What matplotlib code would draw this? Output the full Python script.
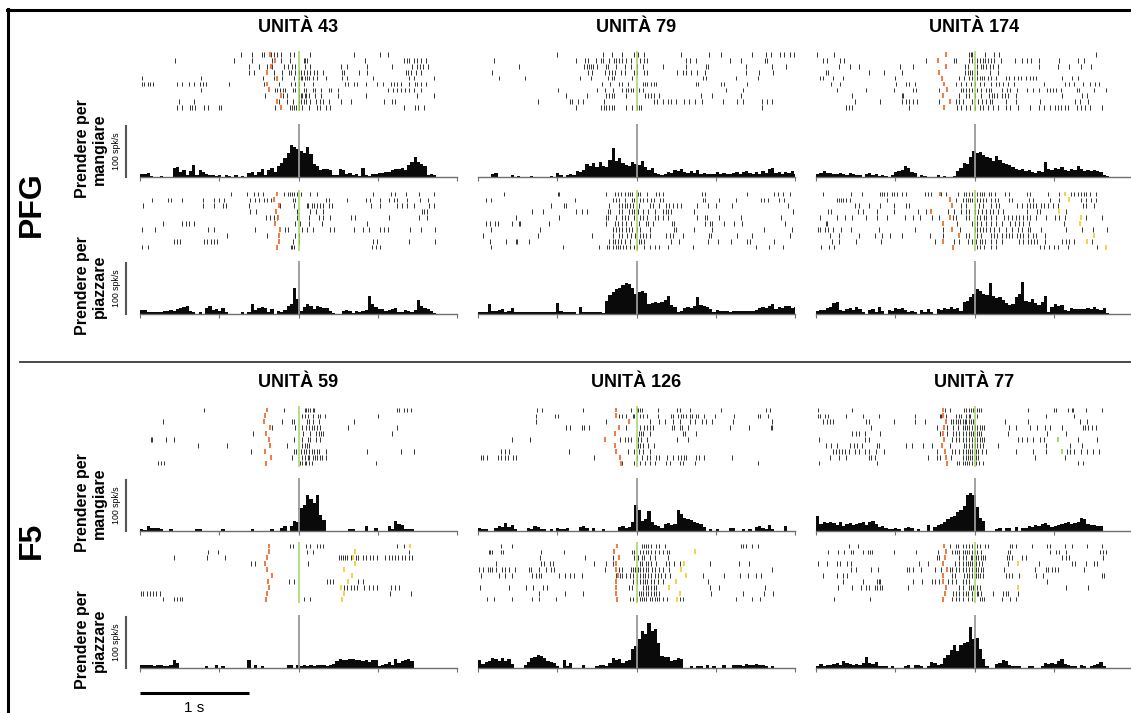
import matplotlib
matplotlib.use("Agg")
import matplotlib.pyplot as plt
import numpy as np
from matplotlib.lines import Line2D

plt.rcParams["font.family"] = ["Liberation Sans", "DejaVu Sans"]

NA = np.nan
T0, T1 = -1.46, 1.46          # analysis window (s), aligned on contact
BIN = 0.03                    # PSTH bin width (s)
TICKS = [-1.46, -0.73, 0.0, 0.73, 1.46]

# ---------------- PFG, unit 43 ----------------
u43_eat_trials = [
    [-0.53, -0.43, -0.34, -0.32, -0.25, -0.23, -0.20, -0.16, -0.08, -0.04, 0.11, 0.51, 0.75, 0.82],
    [-1.14, -0.59, -0.43, -0.24, -0.16, -0.08, 0.05, 0.06, 0.08, 0.61, 0.97, 1.00, 1.02, 1.06, 1.09, 1.13, 1.17],
    [-0.46, -0.36, -0.29, -0.24, -0.13, -0.10, -0.06, -0.03, 0.06, 0.11, 0.39, 0.45, 0.63, 0.86, 1.05, 1.09, 1.12, 1.15, 1.19],
    [-0.46, -0.41, -0.23, -0.15, -0.09, -0.07, -0.03, 0.0, 0.02, 0.05, 0.08, 0.11, 0.14, 0.17, 0.23, 0.40, 0.42, 0.56, 0.63, 0.99, 1.01, 1.04, 1.08, 1.13],
    [-1.44, -0.90, -0.33, -0.23, -0.15, -0.04, 0.00, 0.02, 0.03, 0.06, 0.08, 0.10, 0.13, 0.17, 0.25, 0.40, 0.45, 0.69, 1.02, 1.06, 1.25],
    [-1.44, -1.42, -1.39, -1.37, -1.34, -1.12, -1.07, -1.01, -0.96, -0.91, -0.88, -0.85, -0.64, -0.32, -0.18, -0.07, -0.03, 0.00, 0.05, 0.13, 0.43, 0.46, 0.51, 0.54, 0.62, 0.72, 0.78, 0.85, 0.88, 0.91, 0.94, 1.02, 1.07, 1.09, 1.13, 1.17],
    [-0.90, -0.22, -0.20, -0.17, -0.14, -0.12, -0.05, -0.03, 0.00, 0.05, 0.07, 0.13, 0.15, 0.21, 0.28, 0.30, 0.36, 0.82, 0.87, 0.91, 0.94, 0.98, 1.02, 1.06, 1.13],
    [-0.31, -0.14, -0.11, 0.00, 0.02, 0.03, 0.06, 0.07, 0.10, 0.15, 0.21, 0.36, 0.62, 1.09, 1.25],
    [-1.10, -0.96, -0.18, -0.11, -0.05, 0.00, 0.02, 0.05, 0.07, 0.11, 0.16, 0.20, 0.23, 0.28, 0.39, 0.48, 0.79, 0.86, 0.89],
    [-1.12, -1.07, -1.00, -0.98, -0.95, -0.87, -0.83, -0.73, -0.71, -0.22, -0.08, -0.06, -0.04, -0.02, 0.00, 0.03, 0.10, 0.17, 0.20, 0.25, 0.29, 0.97, 1.07, 1.10, 1.16],
]
u43_eat_go = [-0.26, -0.22, -0.25, -0.29, -0.20, -0.29, -0.27, -0.16, -0.20, -0.16]
u43_eat_psth = [6, 5, 7, 2, 0, 0, 1, 0, 0, 0, 18, 20, 10, 14, 4, 12, 24, 3, 14, 10, 6, 4, 3,
                2, 3, 0, 3, 2, 0, 3, 0, 2, 0, 8, 9, 4, 10, 16, 3, 14, 18, 10, 22, 28,
                38, 48, 62, 58, 55, 52, 48, 58, 45, 25, 22, 14, 16, 16, 14, 3, 4, 16, 14, 6, 8,
                4, 6, 2, 18, 3, 1, 5, 6, 8, 7, 9, 10, 14, 16, 16, 18, 14, 24, 30, 40, 30, 26,
                22, 4, 6, 3]

u43_place_trials = [
    [-0.62, -0.47, -0.41, -0.37, -0.33, -0.13, -0.10, -0.08, -0.06, -0.04, -0.01, 0.02, 0.11, 0.17, 0.69, 0.85, 0.89, 0.99, 1.11, 1.25],
    [-1.35, -1.20, -1.17, -1.07, -0.88, -0.78, -0.73, -0.69, -0.45, -0.40, -0.36, -0.32, -0.29, -0.25, -0.05, -0.03, 0.25, 0.28, 0.45, 0.62, 0.66, 0.75, 0.83, 0.88, 0.91, 1.00, 1.12, 1.19],
    [-1.43, -0.88, -0.78, -0.70, -0.67, -0.46, -0.17, -0.04, 0.08, 0.09, 0.12, 0.14, 0.17, 0.20, 0.23, 0.28, 0.31, 0.67, 0.75, 0.91, 0.95, 1.00, 1.06, 1.20, 1.25],
    [-0.45, -0.39, -0.01, 0.11, 0.16, 0.23, 1.14, 1.16, 1.18],
    [-0.30, -0.26, -0.23, -0.20, -0.01, 0.10, 0.19, 0.23, 0.29, 0.48, 0.52, 0.83, 1.11, 1.18],
    [-1.25, -1.07, -1.04, -1.01, -0.96, -0.03, 0.01, 0.10, 0.22, 0.63],
    [-1.44, -1.32, -0.83, -0.78, -0.40, -0.12, -0.10, 0.03, 0.08, 0.13, 0.29, 0.33, 0.51, 0.59, 0.65, 0.75, 0.79, 0.82, 1.03, 1.13, 1.26],
    [-0.66, -0.29, -0.03, 0.00],
    [-1.15, -1.12, -1.09, -0.87, -0.84, -0.81, -0.78, -0.75, -0.05, 0.00, 0.69, 0.72, 1.02, 1.26],
    [-1.44, -1.39, -0.07, -0.06, -0.04, 0.68, 0.71, 0.75],
]
u43_place_go = [-0.20, -0.23, -0.18, -0.21, -0.19, -0.22, -0.17, -0.18, -0.18, -0.20]
u43_place_psth = [8, 8, 4, 4, 3, 4, 3, 6, 5, 8, 6, 10, 12, 14, 16, 5, 3, 0, 4, 0, 12, 15, 8,
                  10, 6, 12, 4, 0, 0, 0, 0, 4, 0, 4, 20, 8, 12, 14, 12, 4, 10, 0, 6, 4,
                  8, 16, 20, 52, 30, 6, 14, 20, 16, 10, 16, 14, 12, 12, 6, 2, 0, 0, 6, 8, 6,
                  2, 6, 4, 6, 8, 36, 20, 14, 10, 10, 6, 8, 10, 12, 4, 4, 8, 6, 4, 8, 28, 16,
                  12, 10, 6, 2]

# ---------------- PFG, unit 79 ----------------
u79_eat_trials = [
    [-0.73, -0.31, -0.23, -0.13, -0.02, 0.01, 0.07, 0.41, 0.67, 0.78, 1.06, 1.19, 1.24, 1.32, 1.36, 1.41, 1.45],
    [-1.31, -0.56, -0.47, -0.45, -0.37, -0.33, -0.31, -0.25, -0.21, -0.19, -0.16, -0.13, -0.10, -0.05, 0.03, 0.07, 0.10, 0.46, 0.49, 0.55, 0.86, 0.96, 1.18, 1.20],
    [-1.08, -0.48, -0.46, -0.44, -0.42, -0.40, -0.36, -0.28, -0.26, -0.19, -0.11, -0.05, 0.0, 0.06, 0.24, 0.46, 0.64, 0.66, 1.01, 1.25, 1.38],
    [-1.33, -0.45, -0.41, -0.29, -0.25, -0.23, -0.20, -0.14, -0.11, -0.02, 0.0, 0.07, 0.10, 0.37, 0.43, 0.46, 0.50, 0.56, 0.63, 1.01, 1.13, 1.26],
    [-1.27, -1.03, -0.52, -0.42, -0.26, -0.23, -0.21, -0.04, 0.61, 0.64, 0.92, 1.12],
    [-0.32, -0.24, -0.16, -0.13, -0.08, 0.06, 0.08, 0.10, 0.13, 0.16, 0.18, 0.55, 0.57, 0.78, 0.81, 1.02],
    [-0.72, -0.36, -0.29, -0.22, -0.13, -0.10, -0.08, -0.05, -0.03, 0.02, 0.06, 0.82, 0.98],
    [-0.65, -0.46, -0.28, -0.25, -0.23, -0.21, -0.10, 0.08, 0.11, 0.13, 0.16, 0.21, 0.59, 0.70, 0.96],
    [-0.91, -0.61, -0.59, -0.54, -0.49, -0.30, 0.16, 0.19, 0.24, 0.29, 0.32, 0.36, 0.44, 0.48, 0.54, 0.60, 0.80, 0.93, 0.98, 1.16, 1.20, 1.25],
    [-0.56, -0.33, -0.30, -0.28, -0.25, -0.23, -0.21, -0.10, -0.04, 0.00, 0.02, 0.04, 1.16],
]
u79_eat_psth = [0, 0, 0, 0, 6, 8, 0, 0, 0, 0, 3, 0, 2, 0, 0, 0, 2, 0, 0, 0, 0, 0, 2, 0, 8,
                3, 0, 4, 6, 4, 12, 10, 14, 26, 22, 28, 20, 30, 22, 20, 34, 56, 32, 38, 28,
                24, 22, 30, 26, 24, 32, 20, 14, 18, 8, 6, 4, 6, 10, 8, 14, 12, 16, 10, 8,
                12, 8, 13, 6, 8, 5, 6, 5, 10, 6, 8, 5, 6, 8, 10, 6, 10, 12, 8, 6,
                10, 6, 12, 8, 15, 18, 8, 10, 6, 10, 8, 12, 6]

u79_place_trials = [
    [-1.22, -0.72, -0.71, -0.28, -0.20, -0.17, -0.14, -0.11, -0.08, -0.06, -0.04, 0.01, 0.03, 0.10, 0.18, 0.21, 0.24, 0.60, 0.63, 1.02, 1.27, 1.30, 1.35, 1.41],
    [-1.39, -1.34, -0.57, -0.22, -0.19, -0.16, -0.11, -0.04, -0.02, 0.03, 0.06, 0.10, 0.13, 0.16, 0.22, 0.24, 0.61, 0.63, 0.76, 0.92, 1.15, 1.17, 1.21, 1.31, 1.36],
    [-0.79, -0.67, -0.65, -0.25, -0.16, -0.13, -0.11, -0.09, -0.06, -0.03, 0.02, 0.12, 0.15, 0.21, 0.27, 0.30, 0.34, 0.37, 0.41, 0.56, 0.66, 0.73, 0.88, 1.40],
    [-0.96, -0.86, -0.56, -0.50, -0.46, -0.26, -0.24, -0.16, -0.13, -0.07, -0.04, -0.02, 0.01, 0.06, 0.11, 0.17, 0.24, 0.27, 0.29, 0.32, 0.53, 1.44],
    [-1.11, -0.71, -0.28, -0.26, -0.19, -0.13, -0.11, -0.08, -0.02, 0.03, 0.06, 0.10, 0.17, 0.20, 0.24, 0.29, 0.56, 0.63, 0.65, 0.76, 0.96, 1.33],
    [-1.39, -1.35, -1.30, -1.28, -1.15, -1.08, -1.07, -0.81, -0.28, -0.20, -0.17, -0.13, -0.10, -0.05, 0.02, 0.09, 0.11, 0.15, 0.33, 0.35, 0.63, 0.68, 0.70, 0.81, 0.90, 0.97, 1.37],
    [-1.34, -0.89, -0.22, -0.19, -0.16, -0.13, -0.10, -0.07, -0.04, 0.0, 0.03, 0.12, 0.35, 0.36, 0.53, 0.70, 1.17, 1.43],
    [-1.41, -0.91, -0.41, -0.22, -0.16, -0.13, -0.09, -0.05, -0.01, 0.03, 0.06, 0.09, 0.12, 0.27, 0.31, 0.34, 0.43, 0.67, 0.69, 0.93, 1.06, 1.41],
    [-1.35, -1.20, -1.11, -1.10, -0.99, -0.25, -0.22, -0.20, -0.17, -0.14, -0.11, -0.06, 0.02, 0.04, 0.07, 0.32, 0.39, 0.66, 0.75, 0.87, 1.02, 1.05, 1.27],
    [-1.34, -0.68, -0.35, -0.27, -0.25, -0.22, -0.19, -0.17, -0.15, -0.12, -0.10, -0.06, -0.02, 0.0, 0.07, 0.12, 0.17, 0.21, 0.29, 0.52, 1.10, 1.22, 1.35],
]
u79_place_psth = [3, 4, 3, 20, 6, 5, 8, 10, 4, 6, 12, 4, 3, 3, 4, 3, 4, 3, 4, 3, 4, 3, 4, 3, 22,
                  6, 4, 3, 3, 4, 0, 14, 4, 3, 4, 3, 3, 4, 2, 26, 38, 44, 50, 52, 56,
                  60, 58, 52, 40, 44, 46, 42, 20, 22, 24, 22, 24, 28, 36, 18, 14, 4, 6, 12, 14,
                  12, 16, 34, 18, 16, 14, 10, 4, 8, 6, 6, 6, 4, 6, 6, 6, 5, 6, 6, 6,
                  8, 12, 14, 12, 16, 20, 10, 14, 12, 16, 16, 12, 14]

# ---------------- PFG, unit 174 ----------------
u174_eat_trials = [
    [-1.45, -1.29, -0.05, -0.03, -0.02, 0.10, 0.18, 0.23, 1.12],
    [-1.40, -1.36, -1.24, -1.20, -0.45, -0.19, -0.17, -0.05, -0.02, 0.02, 0.05, 0.08, 0.10, 0.12, 0.15, 0.18, 0.24, 0.37, 0.44, 0.48, 0.52, 0.59, 0.78, 0.95, 1.01],
    [-1.25, -1.15, -1.06, -0.69, -0.57, -0.09, -0.06, 0.02, 0.06, 0.08, 0.11, 0.14, 0.17, 0.22, 0.59, 0.77, 0.87, 0.98, 1.07],
    [-1.37, -1.35, -0.97, -0.83, -0.67, -0.09, -0.06, -0.04, -0.02, 0.02, 0.14, 0.22],
    [-1.42, -1.40, -1.30, -1.21, -0.73, -0.14, -0.10, -0.05, -0.02, 0.02, 0.05, 0.07, 0.09, 0.12, 0.15, 0.20, 0.29, 0.32, 0.36, 0.40, 0.43, 0.47, 0.51, 0.54, 0.57, 0.81, 0.90, 0.95],
    [-1.32, -1.24, -0.72, -0.63, -0.60, -0.55, -0.17, -0.12, -0.08, -0.03, 0.0, 0.05, 0.09, 0.15, 0.20, 0.23, 0.26, 0.31, 0.36, 0.64, 0.83, 0.87, 0.92, 1.00, 1.06, 1.11, 1.15],
    [-1.27, -1.00, -0.74, -0.57, -0.54, -0.33, -0.12, -0.11, -0.08, -0.05, -0.02, 0.02, 0.06, 0.11, 0.13, 0.15, 0.25, 0.30, 0.33, 0.39, 0.48, 0.54, 0.59, 0.67, 0.70, 0.72, 0.75, 0.80, 0.94, 0.96, 1.10, 1.21],
    [-1.13, -0.67, -0.66, -0.14, -0.08, -0.05, 0.0, 0.06, 0.13, 0.16, 0.18, 0.21, 0.25, 0.28, 0.31, 0.38, 0.81, 0.99, 1.04],
    [-1.10, -0.87, -0.67, -0.63, -0.60, -0.57, -0.53, -0.33, -0.17, -0.14, -0.11, -0.02, 0.03, 0.07, 0.11, 0.14, 0.16, 0.29, 0.38, 0.60, 0.93, 0.97, 1.05],
    [-1.18, -1.16, -1.13, -0.60, -0.16, -0.12, -0.08, -0.04, 0.0, 0.05, 0.08, 0.12, 0.17, 0.22, 0.29, 0.33, 0.40, 0.51, 0.59, 0.64, 0.70, 0.74, 0.77, 0.80, 0.83, 0.86, 0.94, 0.98, 1.02, 1.06, 1.17],
]
u174_eat_go = [-0.26, -0.34, -0.26, -0.33, -0.30, -0.28, -0.25, -0.29, -0.23, -0.28]
u174_eat_psth = [6, 8, 12, 8, 8, 6, 6, 8, 6, 4, 8, 6, 4, 4, 0, 6, 8, 4, 6, 2, 4, 2, 0, 4, 10,
                 12, 14, 22, 18, 10, 8, 0, 4, 2, 0, 0, 0, 4, 0, 2, 0, 0, 2, 12, 18,
                 28, 26, 40, 52, 48, 50, 44, 40, 38, 32, 42, 34, 28, 26, 24, 20, 16, 14, 16, 12,
                 14, 10, 8, 12, 10, 30, 16, 14, 18, 16, 20, 14, 12, 16, 14, 22, 16, 12, 14, 12,
                 14, 12, 10, 4, 2]

u174_place_trials = [
    [-1.40, -1.14, -1.04, -0.87, -0.85, -0.83, -0.81, -0.76, -0.74, -0.71, -0.67, -0.63, -0.46, -0.43, -0.40, -0.31, -0.26, -0.15, -0.10, -0.08, -0.05, -0.02, 0.02, 0.05, 0.07, 0.09, 0.13, 0.15, 0.19, 0.28, 0.32, 0.48, 0.51, 0.68, 0.78, 0.89, 0.92, 0.95, 0.98, 1.01, 1.03, 1.06, 1.12],
    [-1.27, -1.25, -1.23, -1.21, -1.18, -1.15, -0.81, -0.17, -0.11, -0.08, -0.06, -0.04, -0.02, 0.02, 0.05, 0.08, 0.11, 0.15, 0.19, 0.22, 0.32, 0.35, 0.50, 0.54, 0.70, 0.78, 0.98, 1.03, 1.07, 1.12],
    [-1.10, -1.06, -0.97, -0.87, -0.74, -0.63, -0.60, -0.12, -0.08, 0.0, 0.04, 0.08, 0.15, 0.20, 0.23, 0.39, 0.44, 0.48, 0.51, 0.54, 0.57, 0.61, 0.64, 0.68, 0.72, 0.77, 1.00, 1.03, 1.10],
    [-1.35, -1.32, -1.07, -1.03, -0.90, -0.74, -0.52, -0.45, -0.24, -0.19, -0.12, -0.08, -0.05, 0.0, 0.03, 0.07, 0.11, 0.14, 0.17, 0.22, 0.26, 0.48, 0.58, 0.60, 0.84],
    [-1.42, -1.27, -1.19, -1.13, -1.00, -0.90, -0.81, -0.64, -0.57, -0.50, -0.39, -0.33, -0.20, -0.17, -0.08, -0.05, 0.02, 0.05, 0.09, 0.11, 0.15, 0.20, 0.27, 0.31, 0.35, 0.38, 0.41, 0.45, 0.48, 0.51, 0.57, 0.66, 0.74, 0.78, 0.83, 1.03, 1.17],
    [-1.37, -1.36, -0.16, -0.02, 0.02, 0.06, 0.11, 0.15, 0.20, 0.25, 0.33, 0.37, 0.41, 0.45, 0.50, 0.82],
    [-1.44, -1.42, -1.38, -1.35, -1.30, -1.23, -1.14, -0.88, -0.55, -0.29, -0.13, 0.0, 0.02, 0.05, 0.08, 0.11, 0.14, 0.18, 0.23, 0.29, 0.35, 0.40, 0.44, 0.49, 0.51, 0.61, 0.84, 0.99, 1.09, 1.22],
    [-1.33, -1.25, -1.06, -0.92, -0.85, -0.78, -0.67, -0.41, -0.29, -0.08, -0.05, 0.02, 0.06, 0.15, 0.18, 0.21, 0.25, 0.29, 0.32, 0.35, 0.39, 0.42, 0.45, 0.49, 0.54, 0.57, 0.65],
    [-1.31, -1.25, -1.09, -0.86, -0.36, -0.19, -0.14, -0.06, -0.02, 0.01, 0.05, 0.07, 0.10, 0.15, 0.20, 0.25, 0.41, 0.45, 0.49, 0.52, 0.55, 0.58, 0.65, 0.81, 0.84, 0.87, 0.92, 1.08],
    [-1.41, -1.34, -1.29, 0.02, 0.05, 0.09, 0.15, 0.20, 0.60, 0.64, 0.69, 0.73, 0.77, 0.86, 1.13],
]
u174_place_go = [-0.32, -0.23, -0.21, -0.40, -0.23, -0.29, -0.21, -0.14, -0.29, -0.20]
u174_place_release = [0.83, 0.87, NA, 0.78, 0.98, 0.97, NA, 1.10, 1.04, 1.21]
u174_place_psth = [6, 8, 8, 12, 14, 22, 24, 8, 6, 10, 12, 8, 14, 10, 4, 0, 8, 10, 4, 14,
                   6, 0, 8, 6, 12, 10, 12, 8, 4, 6, 4, 0, 8, 4, 10, 4, 0, 10, 8, 12,
                   10, 14, 10, 12, 6, 24, 26, 34, 40, 50, 46, 40, 38, 60, 36, 32, 34, 28, 22, 18,
                   20, 34, 40, 62, 26, 24, 30, 22, 18, 24, 36, 4, 14, 20, 16, 18, 8, 6, 12, 10,
                   10, 10, 10, 12, 10, 14, 10, 8, 12, 2]

# ---------------- F5, unit 59 ----------------
u59_eat_trials = [
    [-0.87, -0.13, 0.06, 0.07, 0.09, 0.11, 0.13, 0.14, 0.91, 0.93, 0.97, 1.00, 1.04],
    [0.03, 0.06, 0.09, 0.13, 0.18, 0.20, 0.24, 0.73],
    [-1.25, -0.15, -0.06, -0.04, 0.08, 0.10, 0.13, 0.19, 0.51],
    [-0.24, -0.03, 0.03, 0.07, 0.10, 0.12, 0.14, 0.17, 0.20, 0.46, 0.91],
    [-0.42, 0.04, 0.11, 0.16, 0.19, 0.21, 0.23, 0.86],
    [-1.36, -1.35, -1.22, -1.15, -0.04, 0.03, 0.09, 0.11, 0.16, 0.20],
    [-0.93, -0.66, -0.11, 0.03, 0.06, 0.08, 0.10],
    [-0.44, -0.04, -0.02, 0.02, 0.05, 0.07, 0.10, 0.12, 0.14, 0.17, 0.19, 0.25, 0.63, 0.94, 1.06],
    [-0.06, 0.03, 0.06, 0.09, 0.10, 0.13, 0.15, 0.17, 0.20, 0.22, 0.25],
    [-1.29, -1.27, -1.24, 0.01, 0.03, 0.06, 0.07, 0.10, 0.12, 0.71],
]
u59_eat_go = [-0.29, -0.31, -0.32, -0.26, -0.30, -0.27, -0.26, -0.31, -0.25, -0.30]
u59_eat_psth = [3, 2, 10, 6, 5, 5, 4, 0, 0, 3, 0, 0, 0, 0, 0, 0, 0, 3, 3, 0, 0, 0, 0, 0, 0,
                3, 0, 0, 0, 0, 0, 0, 0, 0, 3, 0, 0, 0, 0, 0, 3, 0, 0, 5, 10,
                0, 10, 20, 18, 45, 52, 70, 62, 55, 70, 32, 22, 0, 0, 0, 0, 0, 0, 0, 3,
                3, 0, 0, 0, 10, 0, 0, 5, 0, 0, 0, 10, 4, 20, 14, 12, 4, 4, 3]

u59_place_trials = [
    [-0.08, -0.05, 0.07, 0.11, 0.17, 0.20, 0.23, 0.91, 0.97],
    [-0.83, -0.74, 0.08, 0.13, 1.02],
    [-1.15, -0.84, -0.68, 0.37, 0.39, 0.41, 0.43, 0.45, 0.48, 0.53, 0.55, 0.59, 0.62, 0.66, 0.69, 0.72, 0.80, 0.83, 0.86, 0.89, 0.92, 0.95, 0.98, 1.02, 1.05],
    [-0.44, -0.40, 0.09],
    [],
    [],
    [-0.09, -0.04, 0.26, 0.29, 0.32, 0.55, 0.59],
    [0.42, 0.45, 0.48, 0.51, 0.54, 0.60, 0.65, 0.69, 0.72, 0.85, 0.89, 0.93],
    [-1.45, -1.43, -1.40, -1.37, -1.34, -1.31, -1.28, 0.84, 1.04],
    [-1.25, -1.15, -1.12, -1.09, -1.07, 0.05, 0.11],
]
u59_place_go = [-0.27, -0.27, -0.29, -0.31, -0.29, -0.24, -0.28, -0.27, -0.29, -0.30]
u59_place_release = [1.03, 0.52, 0.50, 0.52, 0.42, 0.49, 0.46, 0.39, 0.42, 0.40]
u59_place_psth = [5, 6, 5, 6, 4, 5, 6, 4, 3, 5, 16, 10, 0, 0, 0, 0, 0, 0, 0, 0, 3, 0, 0, 5, 0,
                  3, 0, 0, 0, 0, 0, 0, 0, 16, 0, 6, 0, 3, 0, 0, 0, 0, 0, 0, 0,
                  6, 5, 0, 5, 4, 5, 4, 6, 4, 5, 6, 5, 4, 6, 7, 14, 18, 16, 15, 17,
                  18, 15, 16, 14, 16, 12, 15, 16, 3, 5, 8, 12, 5, 18, 10, 14, 16, 17, 14]

# ---------------- F5, unit 126 ----------------
u126_eat_trials = [
    [-0.92, -0.87, -0.49, -0.05, 0.0, 0.01, 0.03, 0.05, 0.20, 0.37, 0.40, 0.49, 0.78, 1.19, 1.23],
    [-0.93, -0.75, -0.72, -0.16, -0.13, -0.10, -0.03, -0.02, 0.03, 0.06, 0.10, 0.20, 0.32, 0.34, 0.38, 0.41, 0.43, 0.46, 0.49, 0.51, 0.55, 0.57, 0.62, 0.72, 0.90, 1.12, 1.14, 1.21],
    [-0.93, -0.28, 0.12, 0.21, 0.26, 0.34, 0.40, 0.49, 0.54, 0.60, 0.64, 0.70, 0.89, 1.25],
    [-0.65, -0.61, -0.50, -0.48, -0.44, -0.10, 0.03, 0.07, 0.10, 0.12, 0.15, 0.33, 0.35, 0.40, 0.42, 0.47, 0.86, 1.04, 1.24, 1.25],
    [0.02, 0.04, 0.06, 0.12, 0.43, 0.45, 0.55],
    [-1.15, -0.98, -0.15, -0.11, -0.08, -0.05, 0.01, 0.04, 0.10, 0.37, 0.47],
    [0.01, 0.03, 0.06, 0.11, 0.16],
    [-1.25, -1.21, -1.17, -0.62, -0.08, -0.02, 0.02, 0.06, 0.12],
    [-1.43, -1.41, -1.38, -1.28, -1.25, -1.21, -1.18, -1.14, -1.11, -0.39, 0.0, 0.05, 0.10, 0.12, 0.18, 0.21, 0.28, 0.34, 0.38, 0.41, 0.44, 0.46, 0.55, 0.58, 0.62, 0.88],
    [-0.13, -0.02, 0.03, 0.08, 0.12, 0.17, 0.27, 0.31, 0.40, 0.43, 0.54, 1.12],
]
u126_eat_go = [-0.19, -0.19, -0.07, -0.16, -0.20, -0.29, -0.20, -0.19, -0.15, -0.14]
u126_eat_psth = [6, 4, 3, 0, 0, 6, 10, 8, 16, 8, 12, 3, 0, 0, 0, 5, 3, 10, 8, 3, 3, 0, 3, 0, 5,
                 4, 4, 5, 0, 0, 0, 8, 10, 6, 0, 5, 0, 0, 3, 0, 0, 0, 0, 8, 10,
                 6, 8, 18, 52, 42, 20, 24, 40, 18, 12, 10, 6, 14, 16, 12, 14, 42, 34, 26, 24,
                 22, 18, 16, 14, 8, 0, 4, 0, 3, 0, 0, 0, 6, 6, 0, 0, 3, 0, 3, 0,
                 8, 10, 6, 4, 12, 4, 0, 0, 0, 10]

u126_place_trials = [
    [-1.25, -1.15, 0.05, 0.07, 0.09, 0.11, 0.13, 0.18, 0.21, 0.26, 0.96, 0.98, 1.01, 1.06, 1.12],
    [-1.36, -1.35, -1.33, -1.25, -1.23, -0.88, -0.67, -0.04, -0.02, 0.03, 0.06, 0.09, 0.11, 0.13, 0.17, 0.21, 0.24, 0.28, 0.30],
    [-0.89, -0.47, -0.22, -0.02, 0.01, 0.05, 0.07, 0.12, 0.17, 0.29],
    [-1.29, -0.88, -0.85, -0.80, -0.77, -0.39, -0.28, -0.22, 0.03, 0.05, 0.09, 0.11, 0.13, 0.18, 0.27, 0.30, 0.35, 0.40, 0.68, 0.94, 1.04],
    [-1.45, -1.41, -1.37, -1.35, -1.33, -1.29, -1.24, -1.21, -1.17, -1.12, -0.99, -0.97, -0.90, -0.83, -0.79, -0.76, -0.29, -0.16, -0.13, -0.05, -0.03, -0.01, 0.01, 0.03, 0.06, 0.09, 0.11, 0.14, 0.17, 0.21, 0.24, 0.30, 1.25],
    [-1.43, -1.27, -1.21, -1.15, -0.96, -0.93, -0.90, -0.88, -0.71, -0.66, -0.61, -0.58, -0.50, -0.19, -0.15, -0.13, -0.10, -0.06, -0.03, 0.0, 0.03, 0.06, 0.08, 0.11, 0.13, 0.17, 0.20, 0.23, 0.26, 0.31, 0.61, 0.81, 0.95, 1.03, 1.10, 1.15],
    [-0.03, 0.0, 0.03, 0.06, 0.08, 0.10, 0.13, 0.16, 0.20, 0.24, 0.66],
    [-1.44, -1.17, -1.02, -0.95, -0.86, -0.82, -0.07, -0.04, 0.06, 0.09, 0.11, 0.13, 0.16, 0.18, 0.68, 0.76, 1.18],
    [-0.90, -0.66, -0.49, 0.02, 0.04, 0.06, 0.09, 0.11, 0.13, 0.16, 0.18, 0.21, 0.69, 0.98, 1.17, 1.26],
    [-1.38, -1.31, -1.15, -0.96, -0.90, -0.74, -0.06, -0.03, 0.0, 0.03, 0.05, 0.07, 0.09, 0.12, 0.14, 0.17, 0.19, 0.21, 0.24, 0.28, 0.40, 0.43, 0.92, 1.06, 1.14],
]
u126_place_go = [-0.18, -0.21, -0.16, -0.19, -0.19, -0.17, -0.19, -0.19, -0.19, -0.18]
u126_place_release = [NA, 0.54, NA, 0.44, 0.41, 0.46, 0.36, 0.30, 0.40, 0.37]
u126_place_psth = [16, 8, 12, 14, 20, 18, 14, 20, 14, 18, 8, 0, 0, 0, 6, 12, 20, 22, 26, 24,
                   20, 14, 12, 10, 4, 0, 16, 4, 10, 0, 0, 0, 6, 0, 0, 0, 4, 6, 6, 4,
                   10, 20, 16, 18, 10, 14, 16, 38, 44, 56, 72, 66, 88, 72, 76, 50, 24, 22, 22, 14,
                   16, 20, 18, 0, 0, 3, 0, 4, 4, 0, 6, 0, 4, 0, 0, 6, 0, 0, 6, 6,
                   6, 4, 8, 6, 6, 8, 6, 6, 4, 0, 4]

# ---------------- F5, unit 77 ----------------
u77_eat_trials = [
    [-1.44, -1.13, -0.27, -0.23, -0.10, -0.08, -0.05, -0.03, -0.01, 0.02, 0.04, 0.06, 0.49, 0.73, 0.75, 0.86, 0.90, 0.91, 1.03, 1.17],
    [-1.44, -1.42, -1.38, -1.35, -1.18, -1.03, -0.88, -0.55, -0.32, -0.31, -0.26, -0.17, -0.14, -0.12, -0.08, -0.05, -0.04, 0.02, 0.66, 0.92],
    [-1.40, -1.36, -1.33, -1.30, -1.00, -0.97, -0.74, -0.55, -0.46, -0.22, -0.20, -0.17, -0.15, -0.13, -0.11, -0.09, -0.08, -0.05, -0.03, -0.01, 0.28, 0.49, 0.97, 1.04],
    [-0.95, -0.35, -0.25, -0.20, -0.15, -0.11, -0.09, -0.07, -0.05, -0.02, 0.0, 0.02, 0.05, 0.07, 0.09, 0.32, 0.38, 0.51, 0.58, 0.65, 0.70, 0.81, 1.00, 1.02, 1.05, 1.08, 1.12],
    [-1.13, -1.09, -1.06, -1.01, -0.87, -0.32, -0.25, -0.20, -0.17, -0.14, -0.11, -0.08, -0.05, -0.03, -0.01, 0.02, 0.04, 0.06, 0.31, 0.67, 0.84],
    [-1.43, -1.01, -0.97, -0.21, -0.17, -0.14, -0.11, -0.08, -0.05, -0.02, 0.0, 0.02, 0.05, 0.07, 0.09, 0.40, 0.44, 0.48, 0.54, 0.60, 0.64, 0.95, 1.13],
    [-1.37, -1.32, -1.27, -1.15, -1.11, -1.08, -1.04, -0.90, -0.88, -0.63, -0.58, -0.47, -0.39, -0.23, -0.10, -0.08, -0.05, -0.02, 0.0, 0.02, 0.05, 0.08, 0.22, 0.66, 0.88, 0.99],
    [-1.30, -1.28, -1.25, -1.22, -1.19, -1.16, -1.10, -1.06, -1.01, -0.97, -0.91, -0.83, -0.35, -0.21, -0.18, -0.14, -0.11, -0.08, -0.06, -0.04, -0.02, 0.01, 0.03, 0.07, 0.11, 0.38, 0.54, 0.66, 0.85, 0.88, 0.92, 0.98, 1.04, 1.09, 1.15],
    [-1.33, -1.25, -1.18, -0.97, -0.95, -0.92, -0.43, -0.35, -0.32, -0.22, -0.11, -0.08, -0.06, -0.04, -0.02, 0.01, 0.03, 0.56, 0.83],
    [-1.43, -0.90, -0.16, -0.14, -0.11, -0.09, -0.07, -0.05, -0.02, 0.01, 0.04, 0.08, 0.95, 1.00],
]
u77_eat_go = [-0.29, -0.29, -0.26, -0.28, -0.29, -0.28, -0.30, -0.27, -0.26, -0.25]
u77_eat_second = [NA, NA, NA, NA, NA, 0.77, NA, 0.81, NA, NA]
u77_eat_psth = [30, 14, 18, 16, 18, 16, 12, 18, 10, 14, 16, 12, 14, 16, 18, 12, 18, 20, 14, 8,
                10, 6, 4, 3, 6, 3, 0, 6, 8, 5, 0, 3, 0, 0, 12, 0, 8, 12, 14, 18,
                24, 28, 30, 38, 42, 50, 70, 74, 70, 48, 26, 20, 0, 0, 0, 4, 6, 0, 5, 6,
                0, 8, 0, 5, 6, 10, 8, 12, 10, 14, 16, 12, 8, 10, 12, 14, 16, 18, 14, 16,
                18, 26, 24, 14, 12, 12, 10, 10, 0, 0]

u77_place_trials = [
    [-1.16, -1.07, -0.23, -0.17, -0.15, -0.11, -0.08, -0.05, -0.02, 0.02, 0.05, 0.10, 0.12, 0.33, 0.35, 0.38, 0.53, 0.67, 0.70, 0.83, 0.90, 1.04, 1.17],
    [-1.35, -1.26, -1.20, -1.14, -1.12, -1.03, -0.98, -0.96, -0.94, -0.74, -0.54, -0.34, -0.21, -0.18, -0.16, -0.14, -0.11, -0.09, -0.07, -0.05, -0.02, 0.0, 0.02, 0.06, 0.31, 0.33, 0.70, 0.75, 0.78, 0.84, 1.16, 1.18, 1.21],
    [-0.35, -0.33, -0.14, -0.11, -0.08, -0.03, -0.02, 0.01, 0.03, 0.06, 0.08, 0.10, 0.30, 0.32, 0.35, 0.44, 0.47, 0.81, 0.84, 0.87, 1.18],
    [-1.44, -1.36, -1.27, -1.24, -1.17, -1.14, -0.51, -0.43, -0.18, -0.14, -0.11, -0.08, -0.06, -0.04, -0.02, 0.01, 0.04, 0.07, 0.31, 0.59, 0.90, 0.93, 1.03, 1.10, 1.13],
    [-1.14, -1.09, -0.95, -0.89, -0.62, -0.60, -0.57, -0.49, -0.36, -0.31, -0.23, -0.21, -0.17, -0.14, -0.11, -0.08, -0.05, -0.02, 0.01, 0.03, 0.06, 0.08, 0.27, 0.56, 0.66, 0.68, 0.71, 0.74, 0.77, 1.01],
    [-1.40, -1.27, -1.21, -1.17, -0.21, -0.18, -0.10, -0.07, -0.05, -0.02, 0.01, 0.03, 0.05, 0.08, 0.29, 0.32, 0.35, 0.41, 0.57, 0.63, 1.17, 1.19],
    [-1.21, -1.03, -0.90, -0.88, -0.87, -0.57, -0.48, -0.39, -0.36, -0.33, -0.24, -0.21, -0.17, -0.11, -0.08, -0.05, 0.67],
    [-1.26, -1.13, -1.05, -1.00, -0.97, -0.92, -0.90, -0.87, -0.85, -0.61, -0.14, -0.11, -0.05, -0.03, -0.01, 0.02, 0.05, 0.84, 1.05],
    [-0.20, -0.17, -0.14, -0.11, -0.08, -0.06, -0.02, 0.02, 0.03, 0.06, 0.17, 0.26, 0.29, 0.31, 0.40],
    [-1.29, -0.96, -0.21, -0.17, -0.14, -0.11, -0.06, -0.02, 0.05, 0.07, 0.09, 0.25, 0.33, 0.38],
]
u77_place_go = [-0.28, -0.26, -0.27, -0.29, -0.25, -0.29, -0.29, -0.26, -0.27, -0.29]
u77_place_release = [NA, NA, NA, 0.40, NA, NA, NA, 0.40, NA, NA]
u77_place_psth = [4, 8, 4, 6, 5, 8, 10, 6, 14, 10, 8, 6, 8, 6, 10, 22, 10, 8, 12, 4,
                  4, 3, 0, 3, 0, 0, 0, 4, 6, 0, 5, 6, 4, 0, 3, 12, 10, 6, 8, 20,
                  26, 36, 46, 34, 46, 50, 52, 80, 56, 58, 38, 18, 4, 0, 0, 8, 10, 16, 14, 6,
                  4, 3, 4, 0, 0, 3, 4, 0, 0, 3, 10, 8, 10, 8, 14, 18, 8, 6, 4, 3,
                  0, 6, 4, 0, 3, 6, 8, 12, 4, 0]

# ---------------- layout ----------------
W, H = 1131, 713
SPIKE = "#333333"
GREEN = "#a3d264"
ORANGE = "#ee7033"
YELLOW = "#f4cf3a"
AXIS = "#6f6f6f"
EVENT = "#9a9a9a"

fig = plt.figure(figsize=(W / 100, H / 100), dpi=100)
fig.patch.set_facecolor("white")


def add_px_axes(left, top, width, height):
    return fig.add_axes([left / W, 1 - (top + height) / H, width / W, height / H])


COL_LEFT = [140, 478, 816]
COL_W = 317
ROW_STEP = 5.9
HIST_H = 53
HIST_TOP = 104

# (first raster row centre, histogram baseline) for each block
BLOCKS = {
    ("PFG", "eat"): (54.5, 177),
    ("PFG", "place"): (194, 314),
    ("F5", "eat"): (410, 531),
    ("F5", "place"): (546, 668),
}

panels = [
    ("PFG", 0, "eat", u43_eat_trials, u43_eat_go, None, None, u43_eat_psth),
    ("PFG", 0, "place", u43_place_trials, u43_place_go, None, None, u43_place_psth),
    ("PFG", 1, "eat", u79_eat_trials, None, None, None, u79_eat_psth),
    ("PFG", 1, "place", u79_place_trials, None, None, None, u79_place_psth),
    ("PFG", 2, "eat", u174_eat_trials, u174_eat_go, None, None, u174_eat_psth),
    ("PFG", 2, "place", u174_place_trials, u174_place_go, u174_place_release, None, u174_place_psth),
    ("F5", 0, "eat", u59_eat_trials, u59_eat_go, None, None, u59_eat_psth),
    ("F5", 0, "place", u59_place_trials, u59_place_go, u59_place_release, None, u59_place_psth),
    ("F5", 1, "eat", u126_eat_trials, u126_eat_go, None, None, u126_eat_psth),
    ("F5", 1, "place", u126_place_trials, u126_place_go, u126_place_release, None, u126_place_psth),
    ("F5", 2, "eat", u77_eat_trials, u77_eat_go, None, u77_eat_second, u77_eat_psth),
    ("F5", 2, "place", u77_place_trials, u77_place_go, u77_place_release, None, u77_place_psth),
]

hist_axes = {}
for area, col, cond, trials, go, release, second, psth in panels:
    row0, base = BLOCKS[(area, cond)]
    left = COL_LEFT[col]
    n = len(trials)

    # raster
    ax = add_px_axes(left, row0 - 0.6 * ROW_STEP, COL_W, (n - 1 + 1.2) * ROW_STEP)
    ax.set_xlim(T0, T1)
    ax.set_ylim(n + 0.6, 0.4)
    ax.axis("off")
    for i, tr in enumerate(trials, start=1):
        if tr:
            ax.vlines(tr, i - 0.4, i + 0.4, color=SPIKE, lw=0.7)
    ax.axvline(0, color=GREEN, lw=1.1, zorder=5)
    for marks, colr in ((go, ORANGE), (release, YELLOW), (second, GREEN)):
        if marks is None:
            continue
        for i, t in enumerate(marks, start=1):
            if not np.isnan(t):
                ax.vlines(t, i - 0.42, i + 0.42, color=colr, lw=1.3, zorder=6)

    # PSTH
    hx = add_px_axes(left, base - HIST_H, COL_W, HIST_H)
    edges = T0 + BIN * np.arange(len(psth))
    hx.bar(edges, psth, width=BIN, align="edge", color="#0a0a0a", lw=0)
    hx.vlines(0, 0, HIST_TOP, color=EVENT, lw=1.3, zorder=4)
    hx.set_xlim(T0, T1)
    hx.set_ylim(0, HIST_TOP)
    for s in ("top", "right", "left"):
        hx.spines[s].set_visible(False)
    hx.spines["bottom"].set_color(AXIS)
    hx.spines["bottom"].set_linewidth(1.0)
    hx.set_xticks(TICKS)
    hx.set_xticklabels([])
    hx.tick_params(axis="x", direction="out", length=3, width=0.8, color=AXIS)
    hx.set_yticks([])
    hx.patch.set_alpha(0)
    hist_axes[(area, col, cond)] = hx

    if col == 0:
        # 100 spk/s calibration bar
        xbar = T0 - 14 / (COL_W / (T1 - T0))
        hx.plot([xbar, xbar], [0, 100], color="#555555", lw=1.5, clip_on=False)
        xlab = T0 - 23 / (COL_W / (T1 - T0))
        hx.text(xlab, 50, "100 spk/s", rotation=90, ha="center", va="center",
                fontsize=6.3, clip_on=False)
        label = "Prendere per\nmangiare" if cond == "eat" else "Prendere per\npiazzare"
        fig.text(91 / W, 1 - (base - 28) / H, label, rotation=90, ha="center",
                 va="center", fontsize=11.5, fontweight="bold", linespacing=1.15,
                 multialignment="center")

# 1 s time calibration
sx = hist_axes[("F5", 0, "place")]
y_per_px = HIST_TOP / HIST_H
sx.plot([T0, T0 + 1.0], [-(693 - 668) * y_per_px] * 2, color="black", lw=2.2,
        clip_on=False, solid_capstyle="butt")
sx.text(T0 + 0.5, -(701 - 668) * y_per_px, "1 s", ha="center", va="top",
        fontsize=11, clip_on=False)

# unit titles
titles = {"PFG": ["UNITÀ 43", "UNITÀ 79", "UNITÀ 174"],
          "F5": ["UNITÀ 59", "UNITÀ 126", "UNITÀ 77"]}
title_y = {"PFG": 28, "F5": 382}
for area, names in titles.items():
    for col, name in enumerate(names):
        xc = COL_LEFT[col] + COL_W / 2
        fig.text(xc / W, 1 - title_y[area] / H, name, ha="center", va="center",
                 fontsize=13, fontweight="bold")

# area labels
fig.text(32 / W, 1 - 204 / H, "PFG", rotation=90, ha="center", va="center",
         fontsize=23, fontweight="bold")
fig.text(32 / W, 1 - 540 / H, "F5", rotation=90, ha="center", va="center",
         fontsize=23, fontweight="bold")

# frame and separator
fig.add_artist(Line2D([8 / W, 8 / W], [0, 1 - 9 / H], transform=fig.transFigure,
                      color="black", lw=2.2))
fig.add_artist(Line2D([7 / W, 1], [1 - 10 / H, 1 - 10 / H], transform=fig.transFigure,
                      color="black", lw=2.2))
fig.add_artist(Line2D([20 / W, 1], [1 - 362 / H, 1 - 362 / H], transform=fig.transFigure,
                      color="#3a3a3a", lw=1.3))

fig.savefig("out.png", dpi=100, facecolor="white")
